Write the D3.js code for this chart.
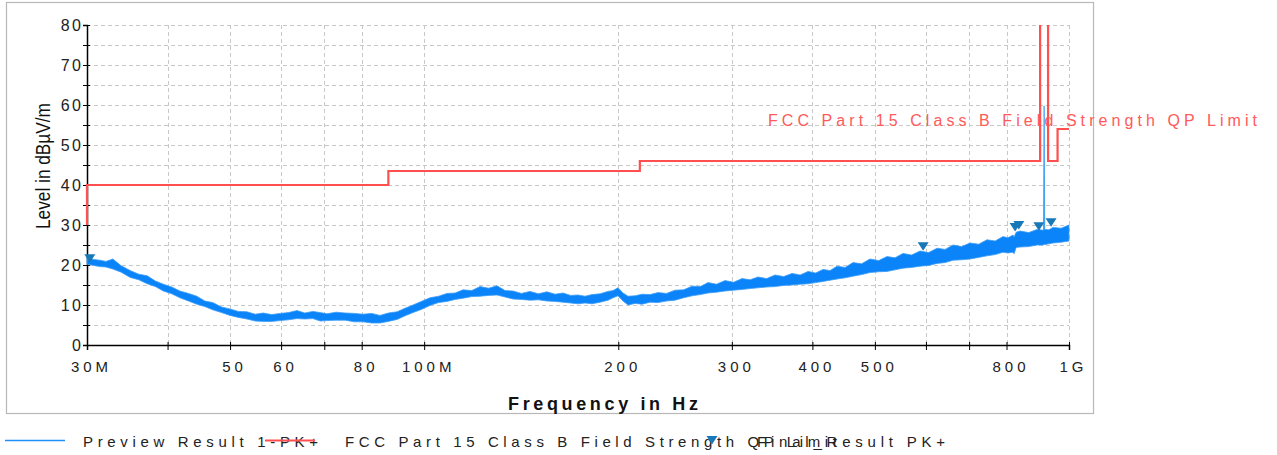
<!DOCTYPE html>
<html><head><meta charset="utf-8">
<script src="https://cdn.jsdelivr.net/npm/d3@7"></script>
<style>
body{margin:0;background:#fff;}
svg{display:block;font-family:"Liberation Sans",Arial,sans-serif;}
</style>
</head><body><svg id="c" width="1277" height="455"></svg>
<script>
// ---- data ----
const xTickMHz   = [30,40,50,60,70,80,100,200,300,400,500,600,700,800,1000];
const xTickLabels= ["30M","","50","60","","80","100M","200","300","400","500","","","800","1G"];
const yTickValues= [0,5,10,15,20,25,30,35,40,45,50,55,60,65,70,75,80];
const yGridValues= [5,10,15,20,25,30,35,40,45,50,55,60,65,70,75,80];

// FCC Part 15 Class B QP limit (MHz, dBuV/m)
const limitFreqMHz = [30,30,88,88,216,216,902,902,928,928,960,960,1000];
const limitLevel   = [30,40,40,43.5,43.5,46,46,94,94,46,46,54,54];

// Preview Result 1-PK+ trace envelope (MHz, low/high dBuV/m)
const traceFreqMHz = [30.0,30.7,31.4,32.1,32.9,33.9,35.0,36.1,37.2,38.3,39.4,40.6,41.8,43.1,44.4,45.7,47.0,48.5,50.0,51.5,53.1,54.7,56.3,58.0,59.8,61.6,63.5,65.3,67.2,69.0,70.7,73.0,75.4,77.9,80.4,82.9,85.4,88.0,90.8,93.4,96.1,99.0,102.1,105.3,108.5,111.7,114.9,118.5,122.1,125.9,129.7,133.5,137.3,141.5,145.9,150.4,155.0,159.6,164.2,168.7,173.2,177.6,182.1,187.4,192.8,196.3,199.8,203.4,207.1,212.4,217.7,224.0,230.5,237.6,244.9,252.6,260.3,268.0,275.6,284.0,292.8,301.9,311.1,320.2,329.4,339.7,350.1,361.0,372.0,382.9,393.9,404.7,415.5,426.1,436.8,449.6,462.4,476.8,491.3,506.7,522.1,537.4,552.8,570.1,587.4,605.8,624.3,642.6,660.9,681.6,702.3,724.2,746.2,768.1,790.0,804.3,818.7,822.0,828.0,839.6,866.0,892.3,913.0,915.0,917.0,930.8,944.6,972.3,1000];
const traceLow  = [20.2,19.9,19.6,19.5,19.0,18.2,16.9,16.3,15.3,14.6,13.5,12.8,11.8,11.0,10.2,9.6,8.8,8.1,7.4,6.9,6.5,6.0,5.9,5.9,6.1,6.3,6.6,6.5,6.6,6.0,6.1,6.2,6.2,5.8,5.8,5.5,5.5,5.9,6.4,7.3,8.1,8.9,9.9,10.6,10.9,11.4,11.7,12.1,12.2,12.4,12.5,12.0,11.5,11.4,11.2,11.3,11.0,10.9,10.7,10.5,10.3,10.5,10.3,10.7,11.2,11.8,12.3,11.0,10.0,10.4,10.2,10.7,10.6,11.0,11.2,11.8,12.3,12.6,13.0,13.2,13.5,13.7,13.9,14.1,14.3,14.5,14.6,14.9,15.0,15.2,15.3,15.6,15.9,16.2,16.5,16.8,17.2,17.6,18.1,18.3,18.4,18.8,19.2,19.4,19.7,19.9,20.4,20.6,21.2,21.3,21.5,21.9,22.3,22.6,23.2,23.0,23.2,22.8,24.4,24.5,24.6,25.0,25.0,25.2,25.1,25.3,25.5,25.7,26.0];
const traceHigh = [22.0,21.4,21.2,20.9,21.5,19.8,18.6,17.7,17.3,16.0,15.2,14.5,13.5,12.9,12.2,11.0,10.6,9.5,9.0,8.4,8.3,7.7,8.0,7.6,7.9,8.1,8.6,8.0,8.4,8.1,7.8,8.2,8.0,7.9,7.7,7.9,7.4,8.0,8.3,9.2,10.0,10.9,11.8,12.2,12.9,13.0,13.8,13.6,14.6,14.2,14.8,13.6,13.5,12.9,13.4,12.8,13.3,12.7,13.0,12.4,12.5,12.2,12.6,12.8,13.4,13.6,14.3,13.0,12.2,12.3,12.7,12.6,13.1,12.9,13.7,13.8,14.7,14.6,15.6,15.2,16.1,15.7,16.6,16.3,17.0,16.6,17.5,17.1,17.9,17.5,18.4,18.0,18.9,18.6,19.7,19.4,20.6,20.3,21.5,21.1,22.1,21.8,22.9,22.5,23.5,23.1,24.2,23.9,25.0,24.6,25.5,25.2,26.3,26.0,27.1,26.8,27.5,27.0,28.2,28.5,28.1,28.9,28.7,59.8,28.9,28.8,29.4,29.2,30.0];

// Final_Result PK+ markers
const finalFreqMHz = [30.3,594,825,836,898,938];
const finalLevel   = [21.7,24.7,29.5,30.0,29.7,30.7];

// ---- chart ----
const svg = d3.select("#c");
const L=87, R=1069, T=25, B=345;
const x = d3.scaleLog().domain([30e6,1e9]).range([L,R]);
const y = d3.scaleLinear().domain([0,80]).range([B,T]);
const txtCol="#222";

svg.append("rect").attr("x",6.5).attr("y",2.5).attr("width",1087).attr("height",411)
  .attr("fill","none").attr("stroke","#b8b8b8").attr("stroke-width",1.2);

// grid
svg.append("g").selectAll("line").data(yGridValues).join("line")
  .attr("x1",L).attr("x2",R).attr("y1",d=>Math.round(y(d))+0.5).attr("y2",d=>Math.round(y(d))+0.5)
  .attr("stroke","#c8c8c8").attr("stroke-dasharray","4,3");
svg.append("g").selectAll("line").data(xTickMHz.slice(1)).join("line")
  .attr("x1",d=>Math.round(x(d*1e6))+0.5).attr("x2",d=>Math.round(x(d*1e6))+0.5).attr("y1",T).attr("y2",B)
  .attr("stroke","#c8c8c8").attr("stroke-dasharray","4,3");

// axes
const yAxis = svg.append("g").attr("transform",`translate(${L},0)`)
  .call(d3.axisLeft(y).tickValues(yTickValues).tickFormat(d=>d%10===0?String(d):"").tickSizeOuter(0).tickSize(4).tickPadding(2));
yAxis.select(".domain").attr("stroke","#000").attr("stroke-width",1.5);
yAxis.selectAll(".tick line").attr("x1",-4).attr("x2",3).attr("stroke","#000");
yAxis.selectAll(".tick text").attr("font-size",16).attr("fill",txtCol).attr("letter-spacing","2.5px")
  .attr("dx","2.5").attr("font-family","Liberation Sans, Arial, sans-serif");

const xAxis = svg.append("g").attr("transform",`translate(0,${B})`)
  .call(d3.axisBottom(x).tickValues(xTickMHz.map(d=>d*1e6)).tickFormat((d,i)=>xTickLabels[i]).tickSizeOuter(0).tickSize(5).tickPadding(11));
xAxis.select(".domain").attr("stroke","#000").attr("stroke-width",1.5);
xAxis.selectAll(".tick line").attr("y1",-3).attr("y2",5).attr("stroke","#000");
xAxis.selectAll(".tick text").attr("font-size",15).attr("fill",txtCol).attr("letter-spacing","4px")
  .attr("dx","4").attr("font-family","Liberation Sans, Arial, sans-serif");

// clip
svg.append("clipPath").attr("id","pc").append("rect").attr("x",L-8).attr("y",T).attr("width",R-L+10).attr("height",B-T);
const plot = svg.append("g").attr("clip-path","url(#pc)");

// trace
const traceData = traceFreqMHz.map((f,i)=>({f:f*1e6,lo:traceLow[i],hi:traceHigh[i]}));
plot.append("path").datum(traceData)
  .attr("d",d3.area().x(d=>x(d.f)).y0(d=>y(d.lo)).y1(d=>y(d.hi)))
  .attr("fill","#0a84f8").attr("stroke","#3a9cf8").attr("stroke-width",0.8);

// limit
const limData = limitFreqMHz.map((f,i)=>({f:f*1e6,v:limitLevel[i]}));
plot.append("path").datum(limData)
  .attr("d",d3.line().x(d=>x(d.f)).y(d=>y(d.v)))
  .attr("fill","none").attr("stroke","#ff4f4f").attr("stroke-width",2.2);

// markers
plot.append("g").selectAll("path").data(finalFreqMHz.map((f,i)=>({f:f*1e6,v:finalLevel[i]}))).join("path")
  .attr("transform",d=>`translate(${x(d.f)},${y(d.v)})`)
  .attr("d","M-5.5,-4L5.5,-4L0,4.5Z").attr("fill","#1878b8");

// limit label
svg.append("text").attr("x",768).attr("y",126).attr("font-size",16).attr("fill","#ff5a5a")
  .attr("textLength",489).attr("lengthAdjust","spacing")
  .text("FCC Part 15 Class B Field Strength QP Limit");

// axis titles
svg.append("text").attr("x",508).attr("y",410).attr("font-size",18).attr("font-weight","bold").attr("fill","#111")
  .attr("textLength",190).attr("lengthAdjust","spacing").text("Frequency in Hz");
svg.append("text").attr("transform","translate(50,229) rotate(-90)").attr("font-size",20).attr("fill","#111")
  .attr("textLength",126).attr("lengthAdjust","spacingAndGlyphs").text("Level in dBµV/m");

// legend
const lg = svg.append("g");
lg.append("line").attr("x1",5).attr("x2",65).attr("y1",440.5).attr("y2",440.5).attr("stroke","#1e8ef8").attr("stroke-width",1.5);
lg.append("text").attr("x",83).attr("y",447).attr("font-size",15).attr("fill",txtCol)
  .attr("textLength",235).attr("lengthAdjust","spacing").text("Preview Result 1-PK+");
lg.append("line").attr("x1",265).attr("x2",315).attr("y1",440.5).attr("y2",440.5).attr("stroke","#ff4f4f").attr("stroke-width",2);
lg.append("text").attr("x",345).attr("y",447).attr("font-size",15).attr("fill",txtCol)
  .attr("textLength",492).attr("lengthAdjust","spacing").text("FCC Part 15 Class B Field Strength QP Limit");
lg.append("path").attr("transform","translate(712,440)").attr("d","M-5.5,-4L5.5,-4L0,4.5Z").attr("fill","#1878b8");
lg.append("text").attr("x",757).attr("y",447).attr("font-size",15).attr("fill",txtCol)
  .attr("textLength",188).attr("lengthAdjust","spacing").text("Final_Result PK+");
</script>
</body></html>
